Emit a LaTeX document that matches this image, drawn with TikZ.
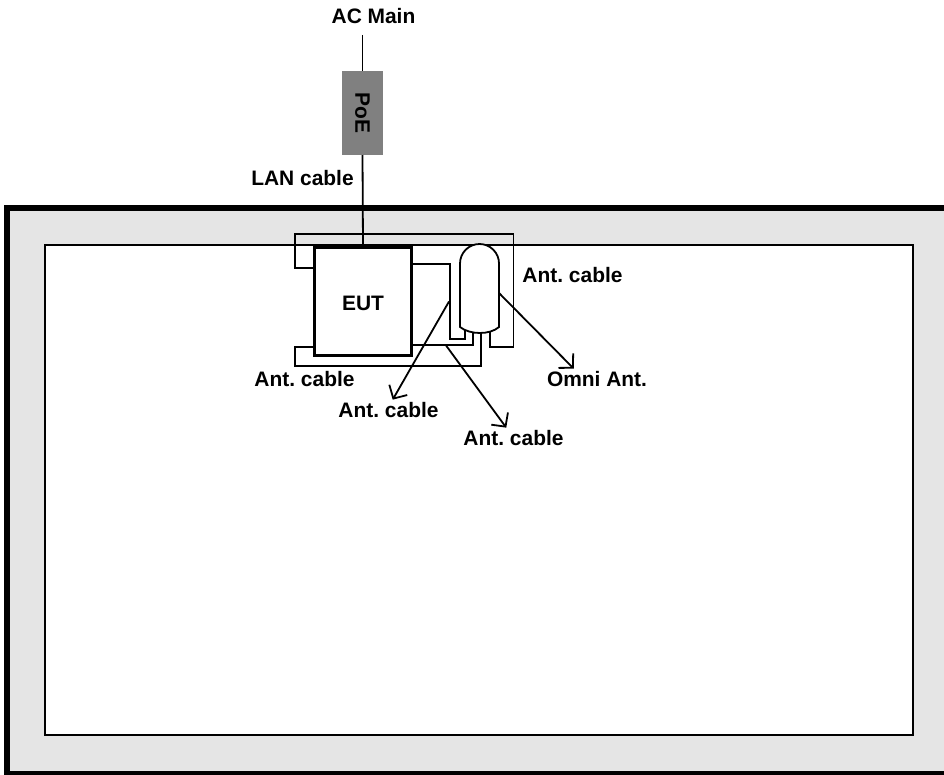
\documentclass[tikz,border=0pt]{standalone}
\usepackage{fontspec}
\setmainfont{Liberation Sans}
\usetikzlibrary{arrows.meta}
\tikzset{
  lbl/.style={font=\fontsize{15.7pt}{18pt}\selectfont\bfseries\frenchspacing,inner sep=0pt,outer sep=2pt},
  cable/.style={line width=1.35pt},
  pointer/.style={line width=1.35pt,-{Straight Barb[length=7.5pt,width=15.5pt,line width=1.35pt]}}
}
\begin{document}
\begin{tikzpicture}[x=0.75pt,y=-0.75pt]
\useasboundingbox (0,0) rectangle (944,774);
\begin{scope}
\clip (0,0) rectangle (944,774);
\draw[line width=4.5pt,fill=black!10] (7,207.5) rectangle (960,773.5);
\end{scope}
\draw[line width=1.35pt,fill=white] (45,245) rectangle (913,735);
\draw(362.5,113) node[fill=black!50,minimum width=30.5pt,minimum height=63pt,inner sep=0pt,outer sep=0pt] (poe) {};
\draw(362.5,113) node[lbl,rotate=-90] (poetxt) {PoE};
\draw(373.5,16) node[lbl] (ac) {AC Main};
\draw(302.5,178.5) node[lbl] (lan) {LAN cable};
\draw(363,301.5) node[draw,line width=2.25pt,fill=white,minimum width=73pt,minimum height=81pt,inner sep=0pt,outer sep=0pt] (eut) {};
\draw(363,303) node[lbl] (euttxt) {EUT};
\draw(572.5,275) node[lbl] (cableright) {Ant. cable};
\draw(304.5,379) node[lbl] (cableleft) {Ant. cable};
\draw(388.5,410) node[lbl] (cablemid) {Ant. cable};
\draw(513.5,438) node[lbl] (cablelow) {Ant. cable};
\draw(597,379) node[lbl] (omni) {Omni Ant.};
% free ends
\coordinate (acend) at (362.5,35);
\coordinate (a1) at (490,331);
\coordinate (a2) at (480.7,333);
\coordinate (a3) at (472.7,332);
\coordinate (a4) at (465,328);
\coordinate (p1) at (449,301.5);
\coordinate (p2) at (445.7,345);
\coordinate (p3) at (499,293);
\draw[cable] (acend) -- (poe.north);
\draw[cable] (poe.south) -- (eut.north);
% cables
\draw[cable] (a1) -- (490,347) -- (513.5,347) -- (513.5,234) -- (295,234) -- (295,268) -- (eut.west |- 0,268);
\draw[cable] (a2) -- (480.7,366) -- (295,366) -- (295,347) -- (eut.west |- 0,347);
\draw[cable] (a3) -- (472.7,345) -- (eut.east |- 0,345);
\draw[cable] (a4) -- (465,339) -- (450,339) -- (450,263.7) -- (eut.east |- 0,263.7);
% antenna
\draw[cable,fill=white] (460,327) -- (460,263.5) arc[start angle=180,end angle=360,x radius=19.5,y radius=19.5] -- (499,327) .. controls (490,335) and (470,335) .. (460,327) -- cycle;
\draw[pointer] (p1) -- (cablemid.68);
\draw[pointer] (p2) -- (cablelow.125);
\draw[pointer] (p3) -- (omni.156);
\end{tikzpicture}
\end{document}
